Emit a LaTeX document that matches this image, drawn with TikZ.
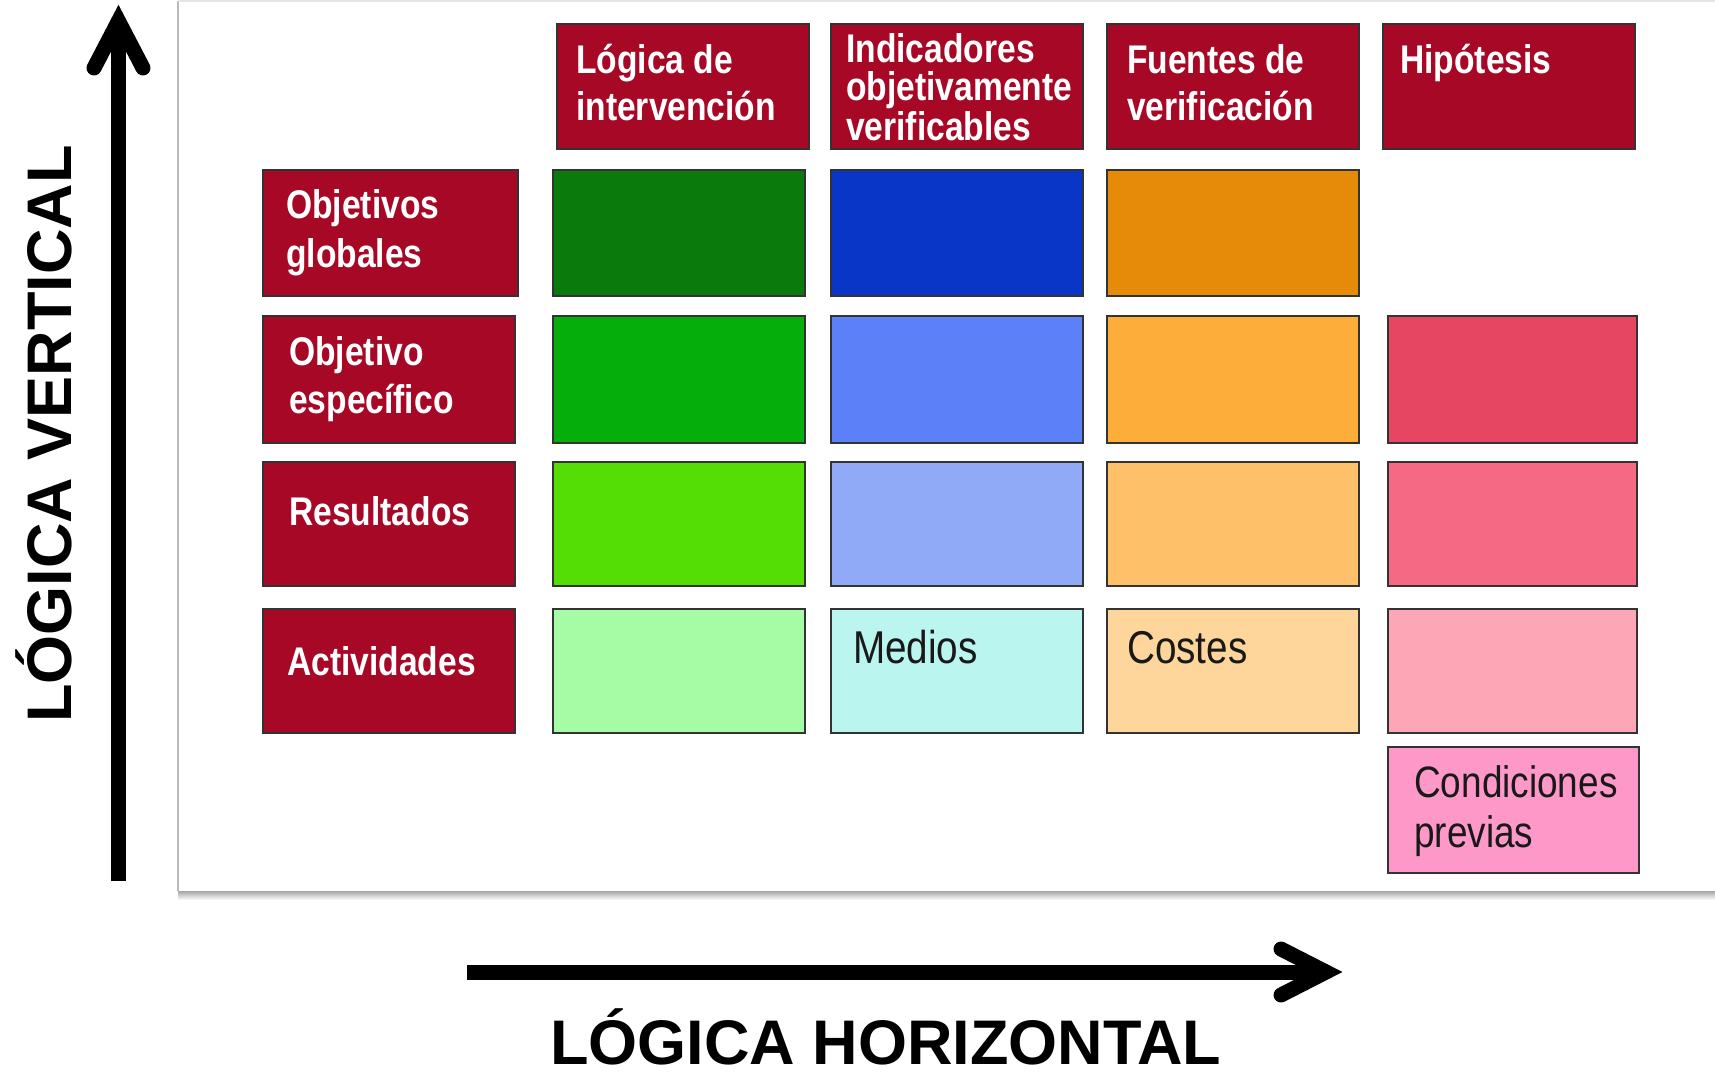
\documentclass[tikz,border=0pt]{standalone}
\usepackage{fontspec}
\setmainfont{Liberation Sans}
\newfontfamily\narrowfont[FakeStretch=0.84]{Liberation Sans}
\usetikzlibrary{calc}
\definecolor{maroon}{HTML}{A60826}
\definecolor{ca}{HTML}{0A7A0D}
\definecolor{cb}{HTML}{0A36C8}
\definecolor{cc}{HTML}{E68A0A}
\definecolor{cd}{HTML}{05AE0A}
\definecolor{ce}{HTML}{5B80F8}
\definecolor{cf}{HTML}{FDAD3A}
\definecolor{cg}{HTML}{E74662}
\definecolor{ch}{HTML}{55DE05}
\definecolor{ci}{HTML}{91AAF8}
\definecolor{cj}{HTML}{FEC16A}
\definecolor{ck}{HTML}{F66984}
\definecolor{cl}{HTML}{A6FCA5}
\definecolor{cm}{HTML}{BAF5EF}
\definecolor{cn}{HTML}{FED69B}
\definecolor{co}{HTML}{FDA6B6}
\definecolor{cp}{HTML}{FD98C9}
\definecolor{edge}{HTML}{333333}
\begin{document}
\begin{tikzpicture}[x=1pt,y=-1pt,
  cell/.style={draw=edge, line width=2pt, fill=#1, inner sep=0pt, outer sep=0pt,
    anchor=north west, minimum width=252pt, minimum height=125pt},
  wtxt/.style={anchor=base west, inner sep=0pt, text=white,
    font=\narrowfont\bfseries\fontsize{40}{47}\selectfont},
  btxt/.style={anchor=base west, inner sep=0pt, text=black!90,
    font=\narrowfont\fontsize{46}{50}\selectfont},
  bigtxt/.style={inner sep=0pt, text=black, text depth=0pt,
    font=\bfseries\fontsize{63}{70}\selectfont},
  bigarrow/.style={line width=15pt, black}]
\useasboundingbox (0,0) rectangle (1715,1079);
\fill[white] (0,0) rectangle (1715,1079);
% panel
\node[fill=white, inner sep=0pt, outer sep=0pt, anchor=north west,
  minimum width=1540pt, minimum height=890pt] (panel) at (178,1) {};
\shade[top color=gray!70, bottom color=white] (panel.south west) rectangle ($(panel.south east)+(0,9)$);
\draw[gray!55, line width=2pt] (panel.south west) -- (panel.north west);
\draw[gray!20, line width=1.5pt] (panel.north west) -- (panel.north east);
% headers
\node[cell=maroon] (h1) at (557,24) {};
\node[cell=maroon] (h2) at (831,24) {};
\node[cell=maroon] (h3) at (1107,24) {};
\node[cell=maroon] (h4) at (1383,24) {};
% row labels
\node[cell=maroon, minimum width=255pt, minimum height=126pt] (r1) at (263,170) {};
\node[cell=maroon, minimum height=127pt] (r2) at (263,316) {};
\node[cell=maroon, minimum height=124pt] (r3) at (263,462) {};
\node[cell=maroon, minimum height=124pt] (r4) at (263,609) {};
% grid
\node[cell=ca, minimum height=126pt] (a1) at (553,170) {};
\node[cell=cb, minimum height=126pt] (b1) at (831,170) {};
\node[cell=cc, minimum height=126pt] (c1) at (1107,170) {};
\node[cell=cd, minimum height=127pt] (a2) at (553,316) {};
\node[cell=ce, minimum height=127pt] (b2) at (831,316) {};
\node[cell=cf, minimum height=127pt] (c2) at (1107,316) {};
\node[cell=cg, minimum height=127pt, minimum width=249pt] (d2) at (1388,316) {};
\node[cell=ch, minimum height=124pt] (a3) at (553,462) {};
\node[cell=ci, minimum height=124pt] (b3) at (831,462) {};
\node[cell=cj, minimum height=124pt] (c3) at (1107,462) {};
\node[cell=ck, minimum height=124pt, minimum width=249pt] (d3) at (1388,462) {};
\node[cell=cl, minimum height=124pt] (a4) at (553,609) {};
\node[cell=cm, minimum height=124pt] (b4) at (831,609) {};
\node[cell=cn, minimum height=124pt] (c4) at (1107,609) {};
\node[cell=co, minimum height=124pt, minimum width=249pt] (d4) at (1388,609) {};
\node[cell=cp, minimum height=126pt, minimum width=251pt] (d5) at (1388,747) {};
% header texts
\node[wtxt] (h1a) at ($(h1.north west)+(19,49)$) {Lógica de};
\node[wtxt] (h1b) at ($(h1.north west)+(19,96)$) {intervención};
\node[wtxt] (h2a) at ($(h2.north west)+(15,38)$) {Indicadores};
\node[wtxt] (h2b) at ($(h2.north west)+(15,76)$) {objetivamente};
\node[wtxt] (h2c) at ($(h2.north west)+(15,116)$) {verificables};
\node[wtxt] (h3a) at ($(h3.north west)+(20,49)$) {Fuentes de};
\node[wtxt] (h3b) at ($(h3.north west)+(20,96)$) {verificación};
\node[wtxt] (h4a) at ($(h4.north west)+(17,49)$) {Hipótesis};
% row label texts
\node[wtxt] (r1a) at ($(r1.north west)+(23,48)$) {Objetivos};
\node[wtxt] (r1b) at ($(r1.north west)+(23,97)$) {globales};
\node[wtxt] (r2a) at ($(r2.north west)+(26,49)$) {Objetivo};
\node[wtxt] (r2b) at ($(r2.north west)+(26,97)$) {específico};
\node[wtxt] (r3a) at ($(r3.north west)+(26,63)$) {Resultados};
\node[wtxt] (r4a) at ($(r4.north west)+(24,66)$) {Actividades};
% black texts
\node[btxt] (b4a) at ($(b4.north west)+(22,54)$) {Medios};
\node[btxt] (c4a) at ($(c4.north west)+(20,54)$) {Costes};
\node[btxt, font=\narrowfont\fontsize{44}{50}\selectfont] (d5a) at ($(d5.north west)+(26,50)$) {Condiciones};
\node[btxt, font=\narrowfont\fontsize{44}{50}\selectfont] (d5b) at ($(d5.north west)+(26,100)$) {previas};
% vertical arrow
\coordinate (vbot) at (118.5,881);
\coordinate (vtip) at (118.5,21);
\draw[bigarrow] (vbot) -- ($(vtip)+(0,4)$);
\draw[bigarrow, line cap=round, line join=miter]
  ($(vtip)+(-24.5,47)$) -- (vtip) -- ($(vtip)+(24.5,47)$);
\node[bigtxt, rotate=90, anchor=base west] (vlab) at (71,723) {LÓGICA VERTICAL};
% horizontal arrow
\coordinate (hleft) at (467,972);
\coordinate (htip) at (1326,972);
\draw[bigarrow] (hleft) -- ($(htip)+(-4,0)$);
\draw[bigarrow, line cap=round, line join=miter]
  ($(htip)+(-45,-23)$) -- (htip) -- ($(htip)+(-45,23)$);
\node[bigtxt, anchor=base west] (hlab) at (550,1064) {LÓGICA HORIZONTAL};
\end{tikzpicture}
\end{document}
